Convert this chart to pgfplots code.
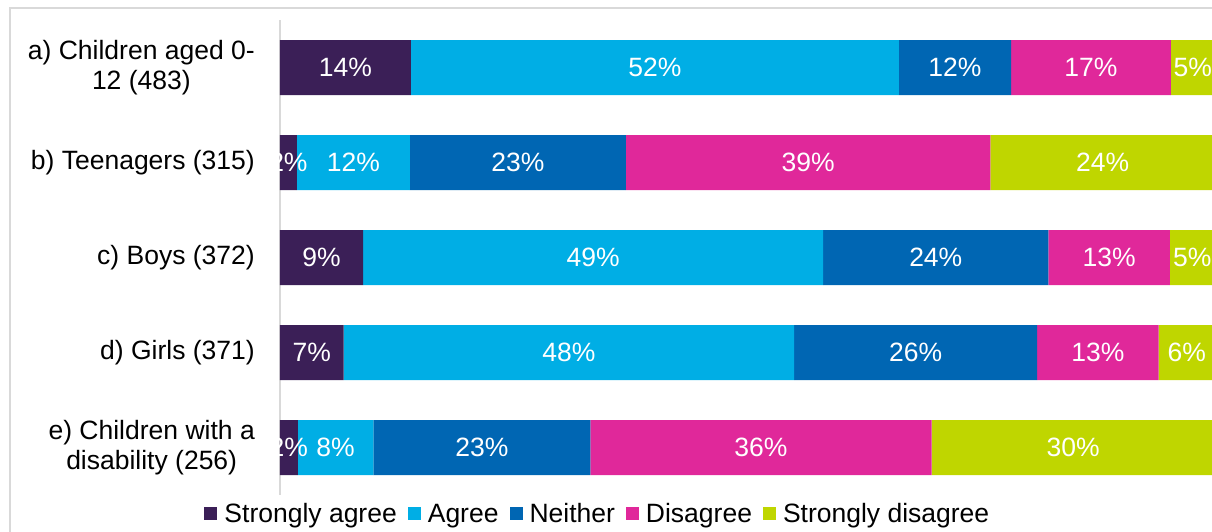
\documentclass[border=0pt]{standalone}
\usepackage{fontspec}
\setmainfont{Liberation Sans}
\usepackage{pgfplots}
\usepackage{pgfplotstable}
\pgfplotsset{compat=1.18}

\definecolor{sagree}{HTML}{3B1F57}
\definecolor{agree}{HTML}{00AEE5}
\definecolor{neither}{HTML}{0066B3}
\definecolor{disagree}{HTML}{E0289A}
\definecolor{sdisagree}{HTML}{BFD600}
\definecolor{framegray}{HTML}{D9D9D9}

% one table per response; val = bar length, lab = printed label
\pgfplotstableread{
cat val lab
0 14.0 14
1 1.8 2
2 8.9 9
3 6.8 7
4 1.9 2
}\sagreetab
\pgfplotstableread{
cat val lab
0 52.2 52
1 12.1 12
2 49.2 49
3 48.2 48
4 8.1 8
}\agreetab
\pgfplotstableread{
cat val lab
0 12.0 12
1 23.1 23
2 24.1 24
3 26.0 26
4 23.2 23
}\neithertab
\pgfplotstableread{
cat val lab
0 17.1 17
1 39.0 39
2 13.0 13
3 13.0 13
4 36.5 36
}\disagreetab
\pgfplotstableread{
cat val lab
0 4.7 5
1 24.0 24
2 4.8 5
3 6.0 6
4 30.3 30
}\sdisagreetab

\newcommand{\chartfont}{\fontsize{26.5}{30}\selectfont}

\begin{document}
\begin{tikzpicture}
  \begin{axis}[
      name=ax,
      scale only axis,
      width=932pt, height=475pt,
      clip=false,
      xbar stacked,
      bar width=0.579,
      xmin=0, xmax=99.7,
      ymin=-0.5, ymax=4.5,
      y dir=reverse,
      axis x line=none,
      axis y line*=left,
      y axis line style={draw=framegray, line width=1.5pt},
      xtick=\empty,
      ytick={0,1,2,3,4},
      yticklabels={{a) Children aged 0-\\12 (483)}, b) Teenagers (315), c) Boys (372), d) Girls (371), {e) Children with a\\disability (256)}},
      major tick length=0pt,
      yticklabel style={align=center, font=\chartfont, inner sep=0pt, xshift=-25pt},
      point meta=explicit symbolic,
      nodes near coords={\pgfplotspointmeta\%},
      every node near coord/.append style={text=white, font=\chartfont, anchor=center},
      legend columns=-1,
      legend style={at={(0.340,-0.040)}, anchor=center, draw=none, font=\chartfont,
        inner sep=0pt, nodes={inner sep=0pt},
        /tikz/every odd column/.append style={column sep=7pt},
        /tikz/every even column/.append style={column sep=11pt}},
      legend image code/.code={\fill[#1] (0pt,-6pt) rectangle (13pt,7pt);},
    ]
    \addplot[fill=sagree, draw=none] table[x=val, y=cat, meta=lab] {\sagreetab};
    \addlegendentry{Strongly agree}
    \addplot[fill=agree, draw=none] table[x=val, y=cat, meta=lab] {\agreetab};
    \addlegendentry{Agree}
    \addplot[fill=neither, draw=none] table[x=val, y=cat, meta=lab] {\neithertab};
    \addlegendentry{Neither}
    \addplot[fill=disagree, draw=none] table[x=val, y=cat, meta=lab] {\disagreetab};
    \addlegendentry{Disagree}
    \addplot[fill=sdisagree, draw=none] table[x=val, y=cat, meta=lab] {\sdisagreetab};
    \addlegendentry{Strongly disagree}
  \end{axis}
  \draw[framegray, line width=1.5pt] ([shift={(-270pt,-100pt)}]ax.south west) |- ([shift={(1000pt,487pt)}]ax.south west);
  \pgfresetboundingbox
  \path[use as bounding box] ([shift={(-280pt,-36pt)}]ax.south west) rectangle ([shift={(932pt,495pt)}]ax.south west);
\end{tikzpicture}
\end{document}
